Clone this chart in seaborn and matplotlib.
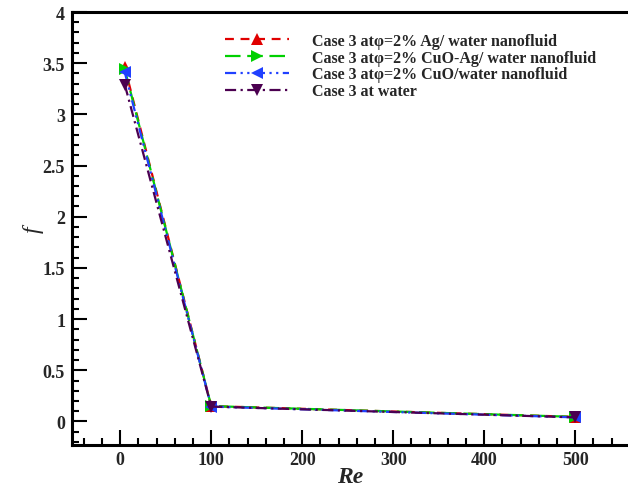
import matplotlib
matplotlib.use("Agg")
import matplotlib.pyplot as plt
import seaborn as sns
import pandas as pd
from matplotlib.ticker import MultipleLocator
from matplotlib.lines import Line2D

re_vals = [5, 100, 500]
cases = ["Case 3 at\u03c6=2% Ag/ water nanofluid",
         "Case 3 at\u03c6=2% CuO-Ag/ water nanofluid",
         "Case 3 at\u03c6=2% CuO/water nanofluid",
         "Case 3 at water"]
f_ag = [3.46, 0.15, 0.045]
f_cuoag = [3.44, 0.15, 0.045]
f_cuo = [3.41, 0.145, 0.04]
f_water = [3.29, 0.145, 0.04]

colors = ["#e00000", "#00d000", "#2040ff", "#4b0050"]
markers = ["^", ">", "<", "v"]
dashes = [(4, 3), (7, 3), (5, 2, 1, 2, 1, 2), (5, 2, 1, 2)]

rows = []
for c, vals in zip(cases, [f_ag, f_cuoag, f_cuo, f_water]):
    for r, v in zip(re_vals, vals):
        rows.append({"Re": r, "f": v, "case": c})
df = pd.DataFrame(rows)

sns.set_style("ticks")
plt.rcParams["font.family"] = ["Liberation Serif", "DejaVu Serif"]
plt.rcParams["font.weight"] = "bold"

fig = plt.figure(figsize=(6.28, 4.89), dpi=100)
ax = fig.add_axes([72 / 628, 1 - 446 / 489, 1 - 72 / 628, (446 - 13) / 489])

sns.lineplot(data=df, x="Re", y="f", hue="case", style="case",
             palette=dict(zip(cases, colors)),
             dashes=dict(zip(cases, dashes)),
             markers=dict(zip(cases, markers)),
             markersize=8, markeredgewidth=0, linewidth=1.6,
             legend=False, ax=ax)

ax.set_xlim(-53, 558)
ax.set_ylim(-0.23, 4)
ax.xaxis.set_major_locator(MultipleLocator(100))
ax.xaxis.set_minor_locator(MultipleLocator(20))
ax.yaxis.set_major_locator(MultipleLocator(0.5))
ax.yaxis.set_minor_locator(MultipleLocator(0.1))
ax.tick_params(which="both", direction="in", labelsize=13, width=1.5, color="black")
ax.tick_params(which="major", length=11)
ax.tick_params(which="minor", length=5)
ax.yaxis.set_major_formatter(matplotlib.ticker.FuncFormatter(lambda v, p: f"{v:g}"))
for lab in ax.get_xticklabels() + ax.get_yticklabels():
    lab.set_fontweight("bold")
ax.tick_params(axis="x", pad=4)
ax.tick_params(axis="y", pad=5)

for s in ["left", "bottom", "top"]:
    ax.spines[s].set_linewidth(2.2)
    ax.spines[s].set_color("black")
ax.spines["right"].set_visible(False)

ax.set_xlabel("Re", fontsize=17, fontweight="bold", fontstyle="italic", labelpad=-1)
ax.set_ylabel("f", fontsize=17, fontstyle="italic", fontweight="normal", labelpad=-1)

handles = [Line2D([0], [0], color=c, marker=m, markersize=9, markeredgewidth=0,
                  linewidth=1.6, dashes=d)
           for c, m, d in zip(colors, markers, dashes)]
ax.legend(handles, cases, frameon=False, loc="upper left",
          bbox_to_anchor=(0.25, 0.985), prop={"size": 11.5, "weight": "bold"},
          handlelength=4.0, handletextpad=1.4, labelspacing=0.05)

fig.savefig("out.png", dpi=100)
